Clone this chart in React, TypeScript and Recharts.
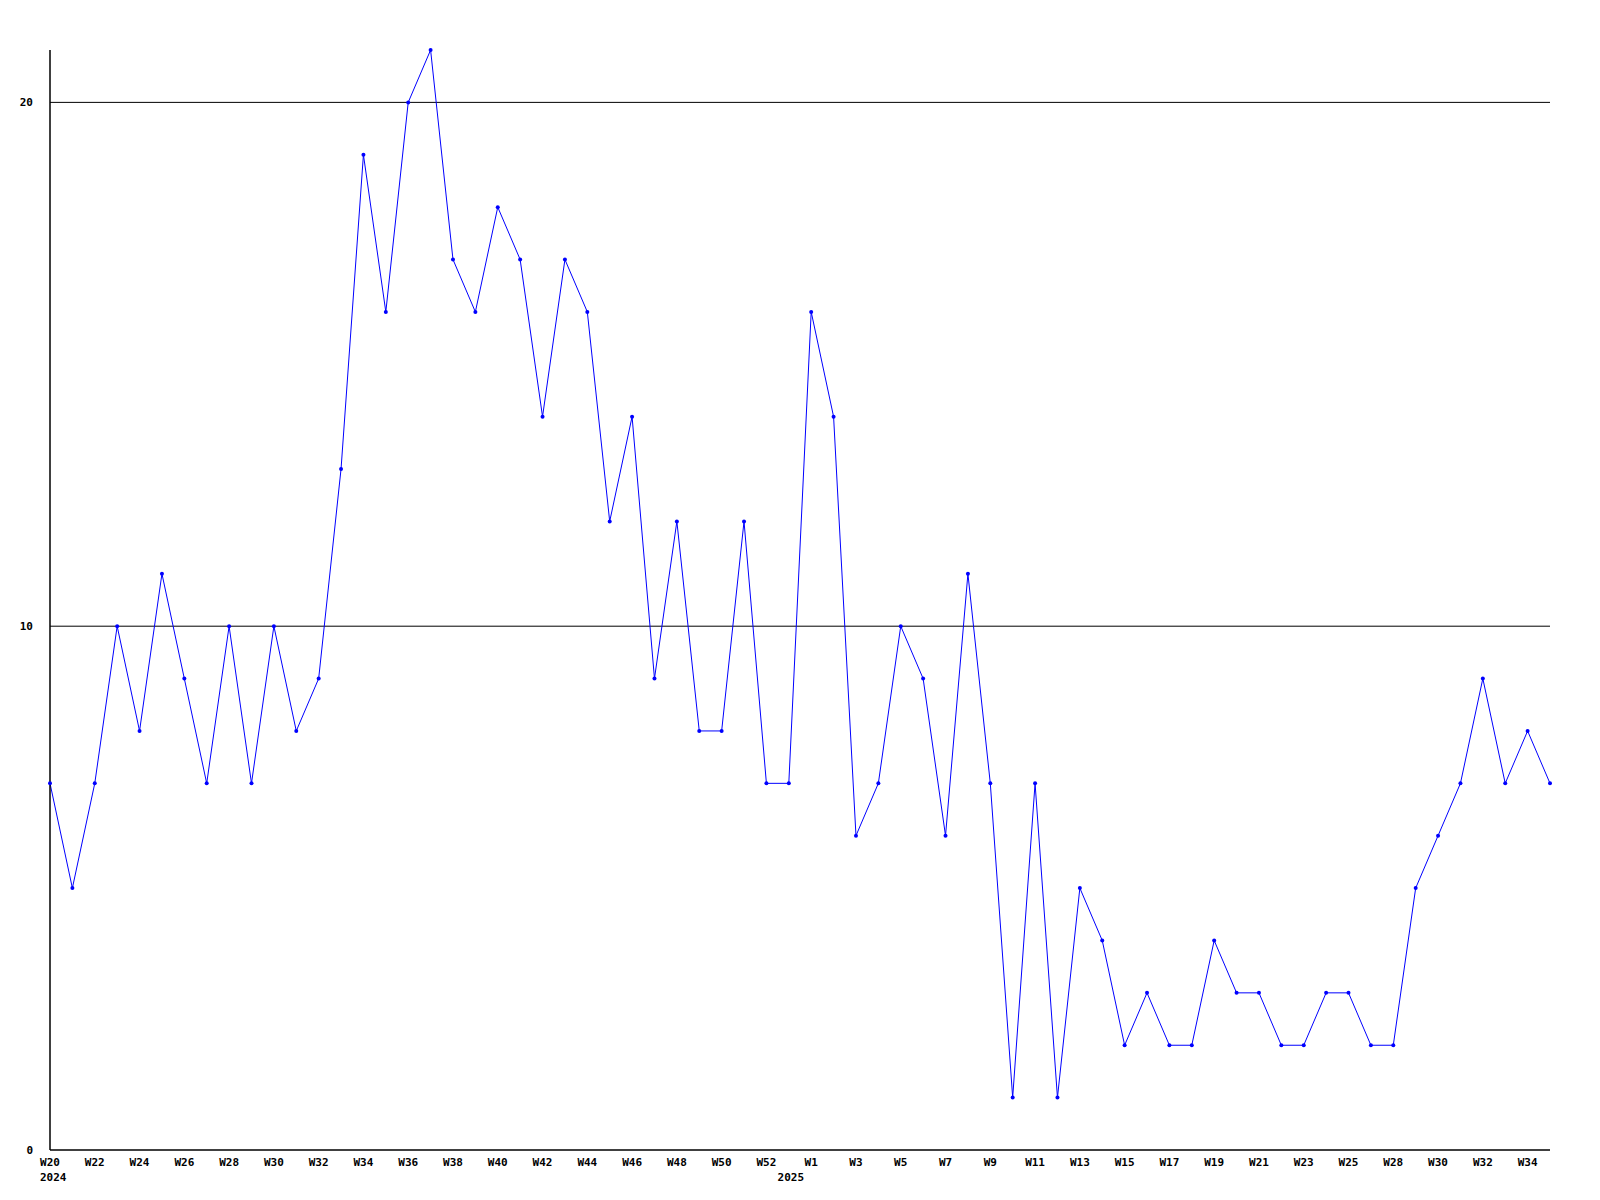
import { CartesianGrid, Line, LineChart, XAxis, YAxis } from "recharts";

const weeks = [
	"W20", "W21", "W22", "W23", "W24", "W25", "W26", "W27", "W28", "W29",
	"W30", "W31", "W32", "W33", "W34", "W35", "W36", "W37", "W38", "W39",
	"W40", "W41", "W42", "W43", "W44", "W45", "W46", "W47", "W48", "W49",
	"W50", "W51", "W52", "W53", "W1", "W2", "W3", "W4", "W5", "W6",
	"W7", "W8", "W9", "W10", "W11", "W12", "W13", "W14", "W15", "W16",
	"W17", "W18", "W19", "W20", "W21", "W22", "W23", "W24", "W25", "W26",
	"W28", "W29", "W30", "W31", "W32", "W33", "W34", "W35",
];

const counts = [
	7, 5, 7, 10, 8, 11, 9, 7, 10, 7,
	10, 8, 9, 13, 19, 16, 20, 21, 17, 16,
	18, 17, 14, 17, 16, 12, 14, 9, 12, 8,
	8, 12, 7, 7, 16, 14, 6, 7, 10, 9,
	6, 11, 7, 1, 7, 1, 5, 4, 2, 3,
	2, 2, 4, 3, 3, 2, 2, 3, 3, 2,
	2, 5, 6, 7, 9, 7, 8, 7,
];

// year shown under the tick at this index
const yearLabels: Record<number, string> = { 0: "2024", 33: "2025" };

const yTicks = [0, 10, 20];
const gridValues = [10, 20];

const data = weeks.map((w, i) => ({ week: w, value: counts[i] }));

const font = "'DejaVu Sans Mono', monospace";

const WeekTick = (props: any) => {
	const { x, y, index, payload } = props;
	const year = yearLabels[index];
	return (
		<g>
			{index % 2 === 0 && (
				<text
					x={x}
					y={y + 16}
					textAnchor="middle"
					fontFamily={font}
					fontSize={11}
					fontWeight="bold"
					fill="#000"
				>
					{payload.value}
				</text>
			)}
			{year && (
				<text
					x={index === 0 ? x - 10 : x + 2}
					y={y + 31}
					textAnchor={index === 0 ? "start" : "middle"}
					fontFamily={font}
					fontSize={11}
					fontWeight="bold"
					fill="#000"
				>
					{year}
				</text>
			)}
		</g>
	);
};

export default function App() {
	return (
		<div style={{ position: "absolute", left: 0, top: 0, background: "#fff" }}>
			<LineChart
				width={1600}
				height={1200}
				data={data}
				margin={{ top: 50, right: 50, left: 0, bottom: 0 }}
			>
				<CartesianGrid
					vertical={false}
					horizontalValues={gridValues}
					stroke="#000"
					strokeWidth={1}
				/>
				<XAxis
					dataKey="week"
					interval={0}
					height={50}
					padding={{ left: 0, right: 0 }}
					axisLine={{ stroke: "#000", strokeWidth: 1.5 }}
					tickLine={false}
					tickSize={0}
					tickMargin={0}
					tick={<WeekTick />}
				/>
				<YAxis
					domain={[0, 21]}
					ticks={yTicks}
					width={50}
					axisLine={{ stroke: "#000", strokeWidth: 1.5 }}
					tickLine={false}
					tickSize={0}
					tickMargin={17}
					tick={{
						fontFamily: font,
						fontSize: 11,
						fontWeight: "bold",
						fill: "#000",
					}}
				/>
				<Line
					type="linear"
					dataKey="value"
					stroke="#0000ff"
					strokeWidth={1}
					dot={{ r: 2, fill: "#0000ff", stroke: "none" }}
					activeDot={false}
					isAnimationActive={false}
				/>
			</LineChart>
		</div>
	);
}
